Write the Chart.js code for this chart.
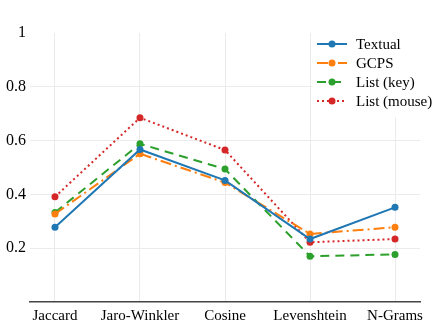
<!DOCTYPE html>
<html>
<head>
<meta charset="utf-8">
<script src="https://cdn.jsdelivr.net/npm/chart.js@4.4.1/dist/chart.umd.min.js"></script>
<style>
  html, body { margin: 0; padding: 0; background: #fff; }
  #wrap { width: 440px; height: 330px; }
</style>
</head>
<body>
<div id="wrap"><canvas id="chart"></canvas></div>
<script>
// data
const categories = ['Jaccard', 'Jaro-Winkler', 'Cosine', 'Levenshtein', 'N-Grams'];
const textual = [0.278, 0.567, 0.452, 0.234, 0.352];
const gcps = [0.327, 0.551, 0.444, 0.253, 0.278];
const listKey = [0.333, 0.588, 0.494, 0.170, 0.177];
const listMouse = [0.391, 0.685, 0.565, 0.222, 0.234];
const yTicks = [0, 0.2, 0.4, 0.6, 0.8, 1];

const serif = '"Liberation Serif", "Times New Roman", serif';

function series(label, values, color, dash) {
  return {
    label: label,
    data: values.map((v, i) => ({ x: i, y: v })),
    borderColor: color,
    backgroundColor: color,
    borderWidth: 2,
    borderDash: dash,
    pointRadius: 3.5,
    pointHoverRadius: 3.5,
    pointBorderWidth: 0,
    tension: 0
  };
}

const datasets = [
  series('Textual', textual, '#1f77b4', []),
  series('GCPS', gcps, '#ff7f0e', [11, 4, 2, 4]),
  series('List (key)', listKey, '#2ca02c', [9, 6]),
  series('List (mouse)', listMouse, '#d62728', [2, 3])
];

// legend drawn inside the plot, top right, on white
const insideLegend = {
  id: 'insideLegend',
  afterDatasetsDraw(chart) {
    const ctx = chart.ctx;
    ctx.save();
    ctx.fillStyle = '#fff';
    ctx.fillRect(312, 31, 112, 86);
    ctx.font = '15px ' + serif;
    ctx.textBaseline = 'middle';
    chart.data.datasets.forEach((ds, i) => {
      const y = 44 + i * 19;
      ctx.strokeStyle = ds.borderColor;
      ctx.lineWidth = 2;
      ctx.setLineDash(ds.borderDash);
      ctx.beginPath();
      ctx.moveTo(317, y);
      ctx.lineTo(347, y);
      ctx.stroke();
      ctx.setLineDash([]);
      ctx.fillStyle = ds.borderColor;
      ctx.beginPath();
      ctx.arc(332, y, 3.5, 0, Math.PI * 2);
      ctx.fill();
      ctx.fillStyle = '#000';
      ctx.fillText(ds.label, 356, y + 1);
    });
    ctx.restore();
  }
};

new Chart(document.getElementById('chart'), {
  type: 'line',
  data: { datasets: datasets },
  options: {
    responsive: true,
    maintainAspectRatio: false,
    animation: false,
    layout: { padding: { top: 33, right: 20, left: 0, bottom: 0 } },
    plugins: {
      legend: { display: false },
      tooltip: { enabled: false }
    },
    scales: {
      x: {
        type: 'linear',
        min: -0.294,
        max: 4.294,
        afterBuildTicks: (axis) => { axis.ticks = categories.map((c, i) => ({ value: i })); },
        afterFit: (axis) => { axis.height = 28; },
        ticks: {
          callback: (v) => categories[v],
          color: '#000',
          font: { family: serif, size: 15 },
          padding: 5,
          maxRotation: 0,
          autoSkip: false
        },
        grid: { color: '#ebebeb', lineWidth: 1, drawTicks: false },
        border: { display: true, color: '#444', width: 1.5 }
      },
      y: {
        min: 0,
        max: 1,
        afterBuildTicks: (axis) => { axis.ticks = yTicks.map(v => ({ value: v })); },
        afterFit: (axis) => { axis.width = 30; },
        ticks: {
          callback: (v) => (v === 0 ? '' : String(v)),
          color: '#000',
          font: { family: serif, size: 16 },
          padding: 4
        },
        grid: {
          color: (c) => (c.tick.value === 0 || c.tick.value === 1 ? 'rgba(0,0,0,0)' : '#ebebeb'),
          lineWidth: 1,
          drawTicks: false
        },
        border: { display: false }
      }
    }
  },
  plugins: [insideLegend]
});
</script>
</body>
</html>
